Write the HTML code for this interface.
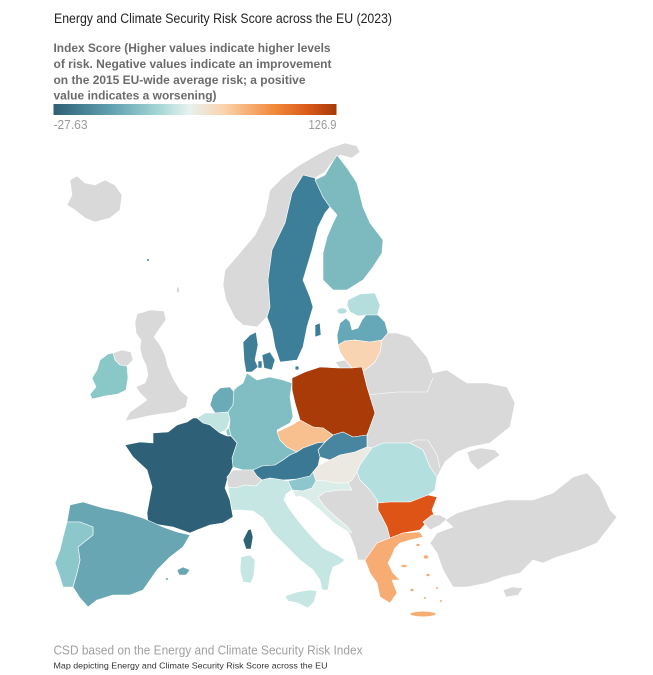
<!DOCTYPE html>
<html><head><meta charset="utf-8"><style>
html,body{margin:0;padding:0;background:#fff;}
svg{display:block;font-family:"Liberation Sans",Arial,sans-serif;}
</style></head><body>
<svg width="653" height="675" viewBox="0 0 653 675" xmlns="http://www.w3.org/2000/svg">
<defs>
<linearGradient id="lg" x1="0" x2="1" y1="0" y2="0">
<stop offset="0" stop-color="#2e5f74"/>
<stop offset="0.2" stop-color="#5e9fb0"/>
<stop offset="0.38" stop-color="#a9d9d8"/>
<stop offset="0.48" stop-color="#e6f2ef"/>
<stop offset="0.6" stop-color="#fbd4ad"/>
<stop offset="0.78" stop-color="#f2893a"/>
<stop offset="0.9" stop-color="#d9591a"/>
<stop offset="1" stop-color="#a63a0a"/>
</linearGradient>
</defs>
<rect width="653" height="675" fill="#fff"/>
<text x="54" y="23" font-size="13.5" fill="#222" textLength="338" lengthAdjust="spacingAndGlyphs">Energy and Climate Security Risk Score across the EU (2023)</text>
<g font-size="12" font-weight="bold" fill="#6b6b6b">
<text x="53.5" y="52" textLength="277" lengthAdjust="spacingAndGlyphs">Index Score (Higher values indicate higher levels</text>
<text x="53.5" y="68" textLength="278" lengthAdjust="spacingAndGlyphs">of risk. Negative values indicate an improvement</text>
<text x="53.5" y="84" textLength="252" lengthAdjust="spacingAndGlyphs">on the 2015 EU-wide average risk; a positive</text>
<text x="53.5" y="99.5" textLength="163" lengthAdjust="spacingAndGlyphs">value indicates a worsening)</text>
</g>
<rect x="53.5" y="104" width="283" height="11" fill="url(#lg)"/>
<text x="53.5" y="129" font-size="12.5" fill="#999" textLength="34" lengthAdjust="spacingAndGlyphs">-27.63</text>
<text x="336.5" y="129" font-size="12.5" fill="#999" text-anchor="end" textLength="28" lengthAdjust="spacingAndGlyphs">126.9</text>

<g stroke="#fff" stroke-width="0.6" stroke-linejoin="round">
<!-- Iceland -->
<polygon fill="#d9d9d9" points="70,180 77,176 85,183 95,185 105,180 115,185 122,195 120,210 110,218 95,222 85,218 75,210 67,205 72,195"/>
<!-- Norway -->
<polygon fill="#d9d9d9" points="270,190 282,178 298,166 315,156 330,148 345,143 357,146 360,152 352,158 340,155 332,162 325,172 315,178 303,175 292,193 285,223 272,250 268,280 270,307 267,317 257,327 243,325 235,318 226,300 223,285 225,270 238,255 255,235 265,215 268,200"/>
<!-- Sweden -->
<polygon fill="#3d7f98" points="303,175 315,178 323,197 330,207 325,213 318,227 312,250 303,280 310,297 313,307 307,327 303,347 297,360 280,362 275,347 272,330 267,317 270,307 268,280 272,250 285,223 292,193"/>
<polygon fill="#3d7f98" points="315,325 320,323 321,335 315,337"/>
<!-- Finland -->
<polygon fill="#7dbac0" points="337,155 347,168 357,183 363,207 370,223 383,240 382,253 373,267 363,280 347,290 333,290 323,280 323,253 327,237 333,223 337,215 330,207 323,197 315,180 325,175 332,163"/>
<!-- Estonia -->
<polygon fill="#b4dedd" points="348,300 360,294 375,293 380,305 377,317 366,315 358,316 350,312 347,305"/>
<ellipse cx="342" cy="311" rx="5" ry="3" fill="#b4dedd"/>
<!-- Latvia -->
<polygon fill="#66a8b8" points="337,335 340,323 346,318 350,322 352,330 358,328 362,320 366,315 378,315 385,322 388,333 382,340 370,342 355,340 345,341 338,345"/>
<!-- Belarus/Ukraine/Moldova -->
<polygon fill="#d9d9d9" points="362,367 365,370 375,362 380,352 382,340 388,333 397,333 410,337 427,357 433,373 447,370 467,383 487,383 507,387 515,403 510,427 490,443 470,447 457,452 445,462 437,477 430,467 423,450 410,443 383,443 372,448 367,447 367,435 375,413 367,387"/>
<polyline fill="none" points="367,395 397,392 427,392 433,378"/>
<polyline fill="none" points="410,443 415,440 428,440 437,455 440,468"/>
<polygon fill="#d9d9d9" points="467,452 480,448 495,450 500,455 490,462 478,470 470,462"/>
<!-- Lithuania -->
<polygon fill="#f9d4b2" points="338,345 345,341 355,340 370,342 382,340 380,352 375,362 365,370 352,368 345,360 340,352"/>
<polygon fill="#d9d9d9" points="335,362 345,360 352,368 340,368"/>
<!-- Poland -->
<polygon fill="#a93b09" points="292,378 305,372 320,367 338,368 352,368 362,367 367,387 375,413 367,435 353,437 343,432 333,435 323,428 313,427 300,420 295,403 292,390"/>
<!-- UK -->
<polygon fill="#d9d9d9" points="137,314 150,310 164,311 166,320 160,328 154,337 160,345 165,355 168,367 174,380 180,390 188,397 186,407 175,412 160,414 148,416 135,419 125,421 130,412 140,405 147,400 140,393 136,387 145,383 148,375 146,365 142,357 140,348 141,340 136,333 135,322"/>
<polygon fill="#d9d9d9" points="113,353 122,350 131,352 133,360 127,366 120,365 115,360"/>
<ellipse cx="178" cy="290" rx="1.5" ry="3" fill="#d9d9d9"/>
<circle cx="148" cy="260" r="1.3" fill="#3d7f98"/>
<!-- Ireland -->
<polygon fill="#8ac8c7" points="100,360 108,354 113,353 115,360 120,365 127,366 128,378 126,390 118,394 105,396 92,399 90,394 96,387 92,378 97,370"/>
<!-- Denmark -->
<polygon fill="#3e7e97" points="243,342 250,335 256,332 258,345 255,360 258,367 252,372 246,372 244,360"/>
<polygon fill="#3e7e97" points="262,355 270,352 275,360 272,370 264,368"/>
<polygon fill="#3e7e97" points="258,361 262,361 262,368 258,368"/>
<circle cx="297" cy="368" r="2" fill="#3e7e97"/>
<!-- Netherlands -->
<polygon fill="#6aabb7" points="210,405 213,395 220,388 230,387 234,392 233,405 228,412 215,413"/>
<!-- Belgium -->
<polygon fill="#c2e4e1" points="197,418 205,413 215,413 228,412 230,420 226,430 220,433 210,425 203,423"/>
<polygon fill="#8ac8c7" points="226,430 229,428 231,435 227,436"/>
<!-- Germany -->
<polygon fill="#80bec3" points="234,390 237,387 243,383 247,373 257,380 270,377 283,380 292,383 290,397 293,417 290,423 277,430 280,440 287,447 297,452 290,455 283,460 275,465 262,466 253,470 243,470 233,467 232,458 237,443 231,436 229,428 230,420 228,412 233,405"/>
<!-- France -->
<polygon fill="#2e6178" points="125,445 140,442 153,443 153,433 168,432 177,425 187,422 193,418 197,418 203,423 210,425 220,433 227,436 231,436 237,443 232,458 233,467 228,477 225,488 230,500 233,517 223,523 210,525 197,530 190,533 173,527 148,523 147,513 150,497 152,487 147,470 133,457"/>
<polygon fill="#2e6178" points="248,530 251,529 253,537 251,549 246,549 243,540"/>
<!-- Switzerland -->
<polygon fill="#d9d9d9" points="227,477 233,470 243,470 253,470 257,476 262,480 256,486 245,485 235,488 228,487"/>
<!-- Czechia -->
<polygon fill="#f8c08f" points="277,432 292,425 300,420 313,427 323,428 333,435 325,442 317,443 303,448 297,452 287,447 280,440"/>
<!-- Slovakia -->
<polygon fill="#4886a0" points="325,442 333,435 343,432 353,437 367,435 367,447 355,452 340,455 330,460 320,457 318,450"/>
<!-- Austria -->
<polygon fill="#3b7893" points="253,470 262,466 275,465 283,460 290,455 297,452 303,448 317,443 325,442 318,450 320,457 318,466 313,472 310,476 297,479 283,480 270,478 262,480 257,476"/>
<!-- Hungary -->
<polygon fill="#ebe9e1" points="318,466 325,462 330,460 340,455 355,452 367,447 372,448 367,455 360,465 357,472 352,480 348,483 335,483 322,480 316,481 313,472"/>
<!-- Balkans grey -->
<polygon fill="#d9d9d9" points="318,497 325,492 340,490 352,490 348,483 352,480 357,472 360,480 370,490 377,500 378,510 382,517 387,527 390,538 377,543 370,553 365,560 358,560 355,548 350,535 345,528 337,518 325,507"/>
<!-- Slovenia -->
<polygon fill="#8dc6cd" points="288,481 297,479 310,476 313,472 316,481 312,488 303,491 292,490"/>
<!-- Croatia -->
<polygon fill="#dbede9" points="292,490 303,491 312,488 316,481 322,480 335,483 348,483 352,490 340,490 325,492 318,497 325,507 337,518 348,527 352,533 345,530 333,522 320,510 308,500 300,496 296,497"/>
<!-- Italy -->
<polygon fill="#c6e6e3" points="228,487 235,488 245,485 256,486 262,480 270,478 283,480 288,481 292,490 286,494 284,500 290,510 300,523 313,538 323,548 337,555 345,560 340,564 333,567 330,577 328,590 322,590 320,580 313,570 300,560 287,547 273,533 263,518 253,511 240,510 232,510 230,500"/>
<polygon fill="#c6e6e3" points="285,596 297,592 310,590 317,591 314,602 308,608 298,603 288,601"/>
<polygon fill="#c6e6e3" points="241,557 250,555 255,560 254,575 251,583 243,582 240,570"/>
<!-- Romania -->
<polygon fill="#b3dfdf" points="357,472 360,465 367,455 372,448 383,443 410,443 423,450 430,467 437,477 435,490 428,495 410,502 390,502 378,503 377,500 370,490 360,480"/>
<!-- Bulgaria -->
<polygon fill="#de5316" points="378,503 390,502 410,502 428,495 437,497 432,510 435,518 427,522 420,530 403,533 390,538 387,527 382,517 378,510"/>
<!-- Greece -->
<polygon fill="#f6ac73" points="390,538 403,533 420,532 423,537 410,540 400,543 395,548 392,555 388,563 393,573 400,580 392,580 397,593 390,603 380,597 377,583 370,573 365,560 370,553 377,543"/>
<ellipse cx="423" cy="614" rx="13" ry="2.8" fill="#f6ac73"/>
<ellipse cx="412" cy="590" rx="2" ry="1.5" fill="#f6ac73"/>
<ellipse cx="428" cy="575" rx="2" ry="1.5" fill="#f6ac73"/>
<ellipse cx="425" cy="598" rx="1.5" ry="1.2" fill="#f6ac73"/>
<ellipse cx="437" cy="588" rx="1.5" ry="1.2" fill="#f6ac73"/>
<ellipse cx="404" cy="566" rx="3" ry="1.5" fill="#f6ac73"/>
<ellipse cx="426" cy="557" rx="2.5" ry="2" fill="#f6ac73"/>
<ellipse cx="441" cy="601" rx="1.5" ry="1.2" fill="#f6ac73"/>
<ellipse cx="418" cy="545" rx="2" ry="1.5" fill="#f6ac73"/>
<!-- Turkey -->
<polygon fill="#d9d9d9" points="445,520 457,513 477,507 507,500 533,500 553,493 573,477 587,473 600,487 610,510 617,517 607,530 597,543 580,550 557,557 543,563 533,560 520,573 503,577 487,583 467,587 453,587 443,570 437,553 430,543 437,533 453,527"/>
<polygon fill="#d9d9d9" points="423,522 432,515 440,515 447,519 440,525 430,530"/>
<polygon fill="#d9d9d9" points="503,590 512,587 523,588 518,595 506,597"/>
<!-- Spain -->
<polygon fill="#68a6b4" points="70,505 83,502 103,508 123,512 143,518 163,527 177,532 190,535 183,547 170,557 157,570 150,580 143,590 130,595 113,595 97,600 88,607 80,598 73,587 77,573 80,560 78,547 93,535 93,527 80,522 67,522"/>
<polygon fill="#68a6b4" points="177,570 183,567 190,570 186,575 179,575"/>
<circle cx="167" cy="579" r="1.3" fill="#68a6b4"/>
<!-- Portugal -->
<polygon fill="#8cc7cb" points="67,522 80,522 93,527 93,535 78,547 80,560 77,573 73,587 63,587 60,577 55,563 60,550 63,537"/>
</g>

<text x="53.5" y="654.5" font-size="12.5" fill="#a0a0a0" textLength="309" lengthAdjust="spacingAndGlyphs">CSD based on the Energy and Climate Security Risk Index</text>
<text x="53.5" y="668.5" font-size="8.5" fill="#333" textLength="274" lengthAdjust="spacingAndGlyphs">Map depicting Energy and Climate Security Risk Score across the EU</text>
</svg>
</body></html>
